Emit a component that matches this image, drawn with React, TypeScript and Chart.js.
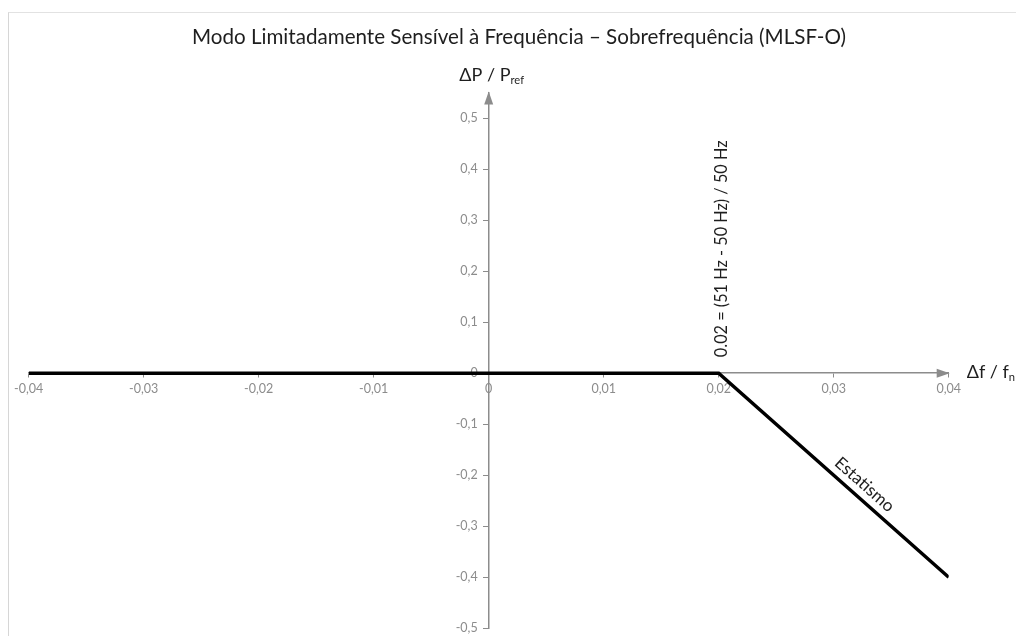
import React, { useEffect, useRef } from 'react';
import { Chart, registerables } from 'chart.js';

Chart.register(...registerables);

// ---- data ----
const lineX = [-0.04, 0.02, 0.04];
const lineY = [0, 0, -0.4];
const xTickValues = [-0.04, -0.03, -0.02, -0.01, 0, 0.01, 0.02, 0.03, 0.04];
const yTickValues = [-0.5, -0.4, -0.3, -0.2, -0.1, 0, 0.1, 0.2, 0.3, 0.4, 0.5];
const xRange = [-0.04, 0.04];
const yRange = [-0.5, 0.55];
const titleText = 'Modo Limitadamente Sensível à Frequência – Sobrefrequência (MLSF-O)';
const kneeLabel = '0.02 = (51 Hz - 50 Hz) / 50 Hz';
const kneeX = 0.02;
const slopeLabel = 'Estatismo';
const slopeLabelX = 0.0319;
const yAxisTitle = ['ΔP / P', 'ref'];
const xAxisTitle = ['Δf / f', 'n'];

// ---- style ----
const W = 1020;
const H = 640;
const FONT = 'Lato, "Noto Sans", "DejaVu Sans", sans-serif';
const axisColor = '#8c8c8c';
const tickColor = '#8c8c8c';
const textColor = '#1e1e1e';
const yTickLen = 5;
const yTickPad = 6;

const fmt = (v: number) => {
  if (Math.abs(v) < 1e-9) return '0';
  return String(parseFloat(v.toFixed(2))).replace('.', ',');
};

const drawSub = (ctx: CanvasRenderingContext2D, parts: string[], x: number, y: number, size: number, align: 'left' | 'center') => {
  ctx.font = `${size}px ${FONT}`;
  const w1 = ctx.measureText(parts[0]).width;
  ctx.font = `${size * 0.62}px ${FONT}`;
  const w2 = ctx.measureText(parts[1]).width;
  const start = align === 'center' ? x - (w1 + w2) / 2 : x;
  ctx.textAlign = 'left';
  ctx.textBaseline = 'middle';
  ctx.font = `${size}px ${FONT}`;
  ctx.fillText(parts[0], start, y);
  ctx.font = `${size * 0.62}px ${FONT}`;
  ctx.fillText(parts[1], start + w1, y + size * 0.28);
};

const decor = {
  id: 'decor',
  beforeDraw(chart: any) {
    // y axis sits at x = 0: move its tick labels to the left of the tick marks
    const ys = chart.scales.y;
    const items = ys.getLabelItems(chart.chartArea);
    items.forEach((it: any) => {
      if (!it._shifted) {
        it.options.translation[0] -= yTickLen + yTickPad;
        it._shifted = true;
      }
    });
  },
  afterDraw(chart: any) {
    const { ctx } = chart;
    const xs = chart.scales.x;
    const ys = chart.scales.y;
    const x0 = xs.getPixelForValue(0);
    const y0 = ys.getPixelForValue(0);
    ctx.save();

    // arrow heads
    ctx.fillStyle = axisColor;
    const xr = xs.getPixelForValue(xRange[1]);
    ctx.beginPath();
    ctx.moveTo(xr + 1, y0);
    ctx.lineTo(xr - 12, y0 - 4.5);
    ctx.lineTo(xr - 12, y0 + 4.5);
    ctx.closePath();
    ctx.fill();
    const yt = ys.getPixelForValue(yRange[1]);
    ctx.beginPath();
    ctx.moveTo(x0, yt - 1);
    ctx.lineTo(x0 - 4.5, yt + 12);
    ctx.lineTo(x0 + 4.5, yt + 12);
    ctx.closePath();
    ctx.fill();

    ctx.fillStyle = textColor;
    // title
    ctx.font = `20.6px ${FONT}`;
    ctx.textAlign = 'center';
    ctx.textBaseline = 'middle';
    ctx.fillText(titleText, chart.width / 2, 24);

    // axis titles
    drawSub(ctx, yAxisTitle, x0 + 3, ys.top - 17, 18, 'center');
    drawSub(ctx, xAxisTitle, xs.right + 18, y0 - 1, 18, 'left');

    // knee label (vertical)
    ctx.save();
    ctx.translate(xs.getPixelForValue(kneeX) + 3, y0 - 16);
    ctx.rotate(-Math.PI / 2);
    ctx.font = `16.3px ${FONT}`;
    ctx.textAlign = 'left';
    ctx.textBaseline = 'middle';
    ctx.fillText(kneeLabel, 0, 0);
    ctx.restore();

    // slope label
    const p1x = xs.getPixelForValue(lineX[1]);
    const p1y = ys.getPixelForValue(lineY[1]);
    const p2x = xs.getPixelForValue(lineX[2]);
    const p2y = ys.getPixelForValue(lineY[2]);
    const ang = Math.atan2(p2y - p1y, p2x - p1x);
    const t = (slopeLabelX - lineX[1]) / (lineX[2] - lineX[1]);
    ctx.save();
    ctx.translate(p1x + t * (p2x - p1x), p1y + t * (p2y - p1y));
    ctx.rotate(ang);
    ctx.font = `17px ${FONT}`;
    ctx.textAlign = 'center';
    ctx.textBaseline = 'alphabetic';
    ctx.fillText(slopeLabel, 0, -8);
    ctx.restore();

    ctx.restore();
  },
};

export default function App() {
  const ref = useRef<HTMLCanvasElement>(null);
  useEffect(() => {
    const canvas = ref.current;
    if (!canvas) return;
    const tickFont = { family: FONT, size: 12.5 };
    const chart = new Chart(canvas, {
      type: 'scatter',
      data: {
        datasets: [
          {
            data: lineX.map((x, i) => ({ x, y: lineY[i] })),
            showLine: true,
            borderColor: '#000000',
            backgroundColor: '#000000',
            borderWidth: 3.5,
            pointRadius: 0,
            tension: 0,
            fill: false,
            borderCapStyle: 'butt',
            borderJoinStyle: 'miter',
          },
        ],
      },
      options: {
        responsive: false,
        animation: false,
        maintainAspectRatio: false,
        events: [],
        layout: {
          padding: { left: 19.7, right: W - 939.7, top: 79.5, bottom: H - 615.3 },
        },
        plugins: {
          legend: { display: false },
          title: { display: false },
          tooltip: { enabled: false },
        },
        scales: {
          x: {
            type: 'linear',
            position: { y: 0 } as any,
            min: xRange[0],
            max: xRange[1],
            afterBuildTicks: (s: any) => {
              s.ticks = xTickValues.map((v) => ({ value: v }));
            },
            afterFit: (s: any) => {
              s.height = 0;
            },
            grid: { drawOnChartArea: false, drawTicks: true, tickLength: 4, color: axisColor, lineWidth: 1 },
            border: { display: true, color: axisColor, width: 1.5 },
            ticks: { autoSkip: false, maxRotation: 0, padding: 4, color: tickColor, font: tickFont, callback: (v: any) => fmt(Number(v)) },
          },
          y: {
            type: 'linear',
            position: { x: 0 } as any,
            min: yRange[0],
            max: yRange[1],
            afterBuildTicks: (s: any) => {
              s.ticks = yTickValues.map((v) => ({ value: v }));
            },
            afterFit: (s: any) => {
              s.width = 0;
            },
            grid: { drawOnChartArea: false, drawTicks: true, tickLength: yTickLen, color: axisColor, lineWidth: 1 },
            border: { display: true, color: axisColor, width: 1.5 },
            ticks: { autoSkip: false, padding: yTickPad, color: tickColor, font: tickFont, callback: (v: any) => fmt(Number(v)) },
          },
        },
      },
      plugins: [decor],
    } as any);
    return () => chart.destroy();
  }, []);

  return (
    <div
      style={{
        position: 'fixed',
        left: 8,
        top: 12,
        width: 1008,
        height: 624,
        overflow: 'hidden',
        borderLeft: '1px solid #d6d6d6',
        borderTop: '1px solid #e2e2e2',
        boxSizing: 'border-box',
        background: '#ffffff',
      }}
    >
      <canvas ref={ref} width={W} height={H} style={{ display: 'block' }} />
    </div>
  );
}
